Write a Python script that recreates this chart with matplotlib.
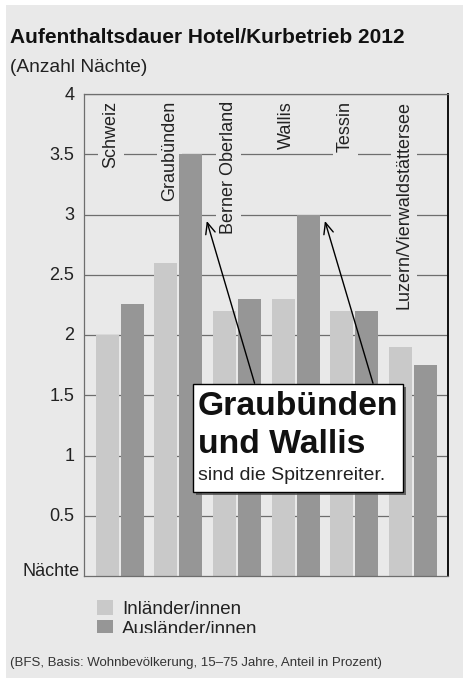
import numpy as np
import matplotlib
matplotlib.use('Agg')
import matplotlib.pyplot as plt
import matplotlib.patches as patches
import matplotlib.transforms as mtransforms

plt.rcParams['font.family'] = ['Liberation Sans', 'DejaVu Sans']

# ==========================================
# DATA
# ==========================================
regions = ['Schweiz', 'Graubünden', 'Berner Oberland', 'Wallis', 'Tessin',
           'Luzern/Vierwaldstättersee']
inland = [2.0, 2.6, 2.2, 2.3, 2.2, 1.9]
ausland = [2.26, 3.5, 2.3, 3.0, 2.2, 1.75]
series_names = ['Inländer/innen', 'Ausländer/innen']
yticks = [0.5, 1, 1.5, 2, 2.5, 3, 3.5, 4]
ytick_labels = ['0.5', '1', '1.5', '2', '2.5', '3', '3.5', '4']

BG = '#e9e9e9'
LIGHT = '#c9c9c9'
DARK = '#969696'
TXT = '#222222'
W, H = 464, 678

# ==========================================
# FIGURE & BACKGROUND PANEL
# ==========================================
fig = plt.figure(figsize=(W / 100, H / 100), dpi=100, facecolor='white')
fig.patches.append(patches.Rectangle((6 / W, 0), 1, (H - 5) / H, transform=fig.transFigure,
                                     facecolor=BG, edgecolor='none', zorder=-5))

ax = fig.add_axes([84 / W, (H - 576) / H, 364 / W, 482 / H])
ax.set_facecolor(BG)

x = np.arange(len(regions))
bw = 0.39
off = 0.213
ax.bar(x - off, inland, bw, color=LIGHT, label=series_names[0], zorder=2)
ax.bar(x + off, ausland, bw, color=DARK, label=series_names[1], zorder=2)

ax.set_xlim(-0.61, 5.6)
ax.set_ylim(0, 4)
ax.set_xticks([])
ax.set_yticks(yticks)
ax.set_yticklabels(ytick_labels, fontsize=13, color=TXT)
ax.tick_params(axis='y', length=0, pad=7)
shift = mtransforms.ScaledTranslation(0, 1 / 100, fig.dpi_scale_trans)
for lbl in ax.get_yticklabels():
    lbl.set_transform(lbl.get_transform() + shift)

ax.grid(axis='y', color='#6e6e6e', lw=0.9, zorder=0)
ax.set_axisbelow(True)
for side in ['left', 'top', 'bottom']:
    ax.spines[side].set_color('#6e6e6e')
    ax.spines[side].set_linewidth(0.9)
ax.spines['right'].set_color('#111111')
ax.spines['right'].set_linewidth(1.4)

ax.text(-0.011, 0, 'Nächte', transform=ax.transAxes, ha='right', va='baseline',
        fontsize=13, color=TXT)

# rotated region labels at the top of the plot (they hide the grid, not the bars)
for i, name in enumerate(regions):
    ax.text(i - 0.15, 3.94, name, rotation=90, ha='center', va='top', fontsize=13,
            color=TXT, zorder=1,
            bbox=dict(facecolor=BG, edgecolor='none', pad=3))

# ==========================================
# CALLOUT BOX + ARROWS
# ==========================================
arrow_style = dict(arrowstyle='->,head_length=0.8,head_width=0.35', lw=1,
                   color='black', shrinkA=0, shrinkB=0)
ax.annotate('', xy=(1.485, 2.946), xytext=(2.30, 1.60), arrowprops=arrow_style, zorder=4)
ax.annotate('', xy=(3.50, 2.946), xytext=(4.32, 1.60), arrowprops=arrow_style, zorder=4)

bx, by, bwid, bhei = 0.2995, 0.174, 0.576, 0.224
sh = mtransforms.offset_copy(ax.transAxes, fig=fig, x=3, y=-3, units='dots')
ax.add_patch(patches.Rectangle((bx, by), bwid, bhei, transform=sh, facecolor='#4a4a4a',
                               edgecolor='none', zorder=5, alpha=0.8))
ax.add_patch(patches.Rectangle((bx, by), bwid, bhei, transform=ax.transAxes,
                               facecolor='white', edgecolor='black', lw=1, zorder=6))
ax.text(0.313, 0.334, 'Graubünden', transform=ax.transAxes, fontsize=24.3,
        fontweight='bold', color='#111111', va='baseline', zorder=7)
ax.text(0.313, 0.255, 'und Wallis', transform=ax.transAxes, fontsize=24.3,
        fontweight='bold', color='#111111', va='baseline', zorder=7)
ax.text(0.313, 0.199, 'sind die Spitzenreiter.', transform=ax.transAxes, fontsize=14,
        color=TXT, va='baseline', zorder=7)

# ==========================================
# TITLES, LEGEND, FOOTNOTE
# ==========================================
fig.text(10 / W, (H - 43) / H, 'Aufenthaltsdauer Hotel/Kurbetrieb 2012', fontsize=15,
         fontweight='bold', color='#111111', va='baseline')
fig.text(10 / W, (H - 72) / H, '(Anzahl Nächte)', fontsize=13.8, color=TXT, va='baseline')

leg = ax.legend(loc='upper left', bbox_to_anchor=(97 / W, (H - 600) / H),
                bbox_transform=fig.transFigure, frameon=False, fontsize=13.5,
                borderaxespad=0, borderpad=0, handlelength=0.85, handleheight=0.85,
                handletextpad=0.48, labelspacing=0.1)
for t in leg.get_texts():
    t.set_color(TXT)

# the second legend row is cut off at the bottom in the original
fig.patches.append(patches.Rectangle((6 / W, (H - 648) / H), 1, 15 / H,
                                     transform=fig.transFigure, facecolor=BG,
                                     edgecolor='none', zorder=10))

fig.text(10 / W, 12 / H, '(BFS, Basis: Wohnbevölkerung, 15–75 Jahre, Anteil in Prozent)',
         fontsize=9.5, color='#333333', va='baseline')

fig.savefig('out.png', dpi=100, facecolor=fig.get_facecolor())
